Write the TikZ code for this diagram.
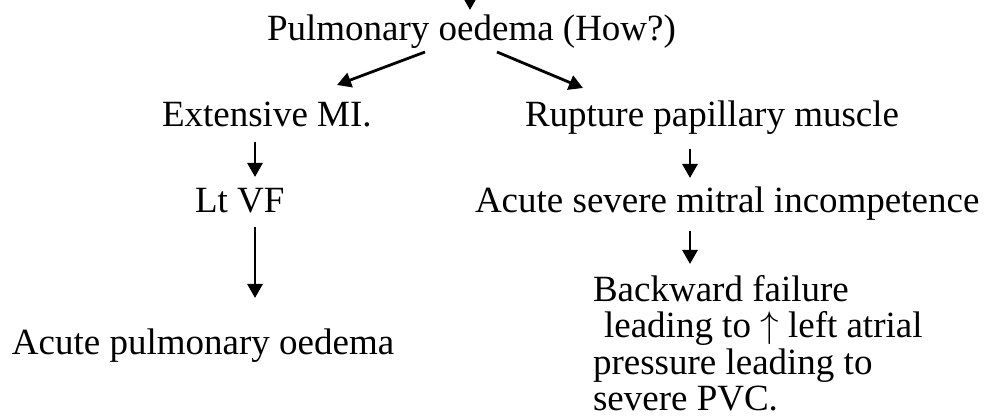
\RequirePackage{fix-cm}
\documentclass[tikz,border=0pt]{standalone}
\usepackage{fontspec}
\setmainfont{Liberation Serif}
\usetikzlibrary{arrows.meta,calc}
\begin{document}
\begin{tikzpicture}[x=1pt,y=-1pt,
  txt/.style={inner sep=0pt,outer sep=0pt,anchor=base west,font=\fontsize{37}{36.5}\selectfont},
  arr/.style={line width=2.8pt,-{Triangle[length=14pt,width=15pt]}}]
\useasboundingbox (0,0) rectangle (989,419);
\node[txt] (pulm) at (267,41) {Pulmonary oedema (How?)};
\node[txt] (ext) at (162,127) {Extensive MI.};
\node[txt] (rup) at (525,127) {Rupture papillary muscle};
\node[txt] (ltvf) at (195,213) {Lt VF};
\node[txt] (amic) at (475,213) {Acute severe mitral incompetence};
\node[txt] (apo) at (12,355) {Acute pulmonary oedema};
\node[txt,anchor=north west,align=left] (back) at (593,275)
  {Backward failure\\\hspace*{0.3em}leading to $\uparrow$ left atrial\\pressure leading to\\severe PVC.};
\coordinate (topin) at (470,-4);
\draw[arr] (topin) -- ($(pulm.base west)+(203,-31)$);
\draw[arr] ($(pulm.base west)+(158,11)$) -- ($(ext.base west)+(175,-42)$);
\draw[arr] ($(pulm.base west)+(230,11)$) -- ($(rup.base west)+(58,-39)$);
\draw[arr] ($(ext.base west)+(93,15)$) -- ($(ltvf.base west)+(60,-36)$);
\draw[arr] ($(ltvf.base west)+(60,14)$) -- ($(apo.base west)+(243,-57)$);
\draw[arr] ($(rup.base west)+(165,22)$) -- ($(amic.base west)+(215,-35)$);
\draw[arr] ($(amic.base west)+(215,18)$) -- ($(back.north west)+(97,-11)$);
\end{tikzpicture}
\end{document}
